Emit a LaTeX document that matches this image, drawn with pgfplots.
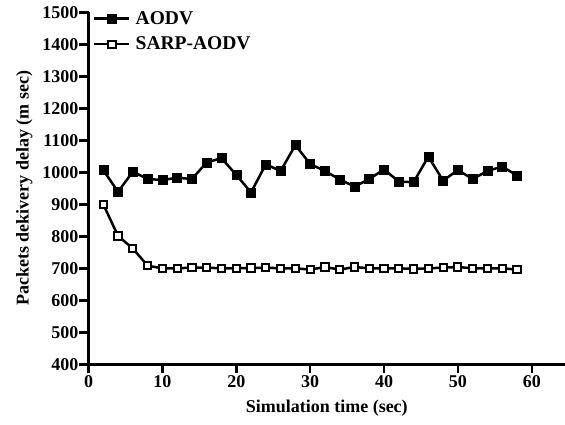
\documentclass[border=0pt]{standalone}
\usepackage{fontspec}
\setmainfont{Liberation Serif}
\usepackage{pgfplots}
\pgfplotsset{compat=1.18}
\begin{document}
\begin{tikzpicture}[x=1pt,y=1pt]
\useasboundingbox (0,0) rectangle (565,425);
\begin{axis}[
  at={(88.5pt,60.7pt)}, anchor=south west,
  scale only axis, width=476.5pt, height=352pt,
  xmin=0, xmax=64.5, ymin=400, ymax=1500,
  axis x line*=bottom, axis y line*=left,
  axis line style={line width=3.5pt, black},
  xtick={0,10,...,60}, ytick={400,500,...,1500},
  tick align=outside, major tick length=9pt,
  tick style={line width=2.5pt, black},
  /pgf/number format/assume math mode=true,
  /pgf/number format/1000 sep={},
  ticklabel style={font=\bfseries\fontsize{18}{18}\selectfont},
  yticklabel style={inner sep=1pt},
  xticklabel style={inner sep=2pt},
  label style={font=\bfseries\fontsize{18}{18}\selectfont},
  xlabel={Simulation time (sec)},
  ylabel={Packets dekivery delay (m sec)},
  xlabel style={at={(axis description cs:0.5,-0.1235)}, anchor=center},
  ylabel style={at={(axis description cs:-0.1345,0.5)}, anchor=center},
  legend style={at={(axis description cs:0.0095,1)}, anchor=north west, yshift=2pt,
    draw=none, fill=none, inner sep=0pt, row sep=9pt,
    font=\bfseries\fontsize{19.5}{19.5}\selectfont,
    nodes={inner sep=1pt}},
  legend cell align=left,
  legend image code/.code={\draw[mark repeat=2,mark phase=2,#1] plot coordinates {(0pt,0pt) (17.5pt,0pt) (35pt,0pt)}; \path (39pt,0pt);},
]
\addplot[black, line width=2.5pt, mark=square*, mark size=4.5pt, mark options={fill=black, line width=0.5pt}] coordinates {
(2,1007) (4,939) (6,1002) (8,979) (10,976) (12,983) (14,979) (16,1031) (18,1044) (20,992)
(22,937) (24,1025) (26,1004) (28,1085) (30,1026) (32,1004) (34,978) (36,955) (38,979) (40,1009)
(42,971) (44,969) (46,1049) (48,974) (50,1007) (52,979) (54,1004) (56,1018) (58,990)};
\addlegendentry{AODV}
\addplot[black, line width=2.5pt, mark=square*, mark size=3.6pt, mark options={fill=white, line width=2pt}] coordinates {
(2,900) (4,801) (6,762) (8,708) (10,700) (12,700) (14,702) (16,702) (18,700) (20,700)
(22,701) (24,702) (26,700) (28,700) (30,696) (32,704) (34,696) (36,704) (38,700) (40,700)
(42,700) (44,698) (46,700) (48,702) (50,704) (52,700) (54,700) (56,700) (58,696)};
\addlegendentry{SARP-AODV}
\end{axis}
\end{tikzpicture}
\end{document}
